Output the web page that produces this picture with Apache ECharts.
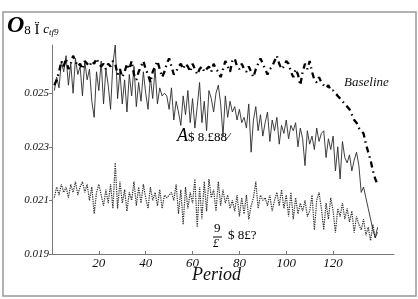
<!DOCTYPE html>
<html>
<head>
    <meta charset="UTF-8">
    <title>Period chart</title>
    <script src="https://cdn.jsdelivr.net/npm/echarts@6.0.0/dist/echarts.min.js"></script>
    <style>
        body { margin: 0; background: #fff; }
        #chart { width: 418px; height: 299px; }
    </style>
</head>
<body>
    <div id="chart"></div>
    <script type="text/javascript">
        // values, period 1..139
        var actual = [
            0.0251, 0.0256, 0.0252, 0.0262, 0.0258, 0.0264, 0.0253, 0.0261, 0.0250, 0.0263,
            0.0257, 0.0260, 0.0249, 0.0262, 0.0255, 0.0259, 0.0247, 0.0241, 0.0258, 0.0251,
            0.0262, 0.0246, 0.0259, 0.0253, 0.0244, 0.0261, 0.0268, 0.0248, 0.0258, 0.0246,
            0.0255, 0.0243, 0.0257, 0.0249, 0.0260, 0.0245, 0.0254, 0.0247, 0.0258, 0.0250,
            0.0244, 0.0256, 0.0248, 0.0259, 0.0246, 0.0252, 0.0249, 0.0250, 0.0249, 0.0244,
            0.0252, 0.0240, 0.0247, 0.0243, 0.0238, 0.0249, 0.0242, 0.0251, 0.0239, 0.0248,
            0.0237, 0.0245, 0.0254, 0.0239, 0.0247, 0.0236, 0.0251, 0.0248, 0.0243, 0.0250,
            0.0253, 0.0246, 0.0234, 0.0249, 0.0241, 0.0247, 0.0243, 0.0245, 0.0240, 0.0244,
            0.0239, 0.0241, 0.0237, 0.0246, 0.0228, 0.0240, 0.0245, 0.0236, 0.0242, 0.0234,
            0.0239, 0.0243, 0.0232, 0.0240, 0.0236, 0.0241, 0.0231, 0.0238, 0.0235, 0.0240,
            0.0233, 0.0238, 0.0236, 0.0239, 0.0230, 0.0237, 0.0233, 0.0223, 0.0236, 0.0231,
            0.0234, 0.0229, 0.0237, 0.0232, 0.0235, 0.0236, 0.0226, 0.0233, 0.0229, 0.0234,
            0.0221, 0.0230, 0.0218, 0.0232, 0.0226, 0.0224, 0.0227, 0.0221, 0.0225, 0.0228,
            0.0223, 0.0213, 0.0215, 0.0211, 0.0207, 0.0203, 0.0199, 0.0196, 0.0200
        ];
        var baseline = [
            0.0253, 0.0255, 0.0258, 0.0262, 0.0260, 0.0263, 0.0259, 0.0261, 0.0264, 0.0262,
            0.0260, 0.0261, 0.0259, 0.0262, 0.0261, 0.0260, 0.0262, 0.0261, 0.0263, 0.0261,
            0.0260, 0.0261, 0.0259, 0.0261, 0.0260, 0.0262, 0.0261, 0.0257, 0.0259, 0.0256,
            0.0258, 0.0261, 0.0259, 0.0262, 0.0257, 0.0255, 0.0258, 0.0260, 0.0262, 0.0259,
            0.0257, 0.0254, 0.0258, 0.0260, 0.0262, 0.0259, 0.0256, 0.0258, 0.0261, 0.0263,
            0.0260, 0.0257, 0.0258, 0.0260, 0.0261, 0.0259, 0.0261, 0.0260, 0.0258, 0.0261,
            0.0259, 0.0257, 0.0259, 0.0260, 0.0258, 0.0259, 0.0260, 0.0258, 0.0261, 0.0259,
            0.0258, 0.0256, 0.0259, 0.0262, 0.0260, 0.0258, 0.0262, 0.0263, 0.0260, 0.0259,
            0.0261, 0.0259, 0.0258, 0.0260, 0.0258, 0.0256, 0.0259, 0.0261, 0.0263, 0.0261,
            0.0259, 0.0257, 0.0259, 0.0260, 0.0262, 0.0264, 0.0261, 0.0259, 0.0260, 0.0262,
            0.0261, 0.0258, 0.0256, 0.0259, 0.0257, 0.0253, 0.0258, 0.0261, 0.0259, 0.0262,
            0.0258, 0.0255, 0.0254, 0.0256, 0.0254, 0.0253, 0.0252, 0.0253, 0.0251, 0.0251,
            0.0250, 0.0249, 0.0248, 0.0247, 0.0246, 0.0245, 0.0244, 0.0242, 0.0240, 0.0239,
            0.0237, 0.0236, 0.0235, 0.0231, 0.0228, 0.0225, 0.0221, 0.0218, 0.0216
        ];
        var lower = [
            0.0211, 0.0215, 0.0212, 0.0216, 0.0213, 0.0215, 0.0211, 0.0216, 0.0213, 0.0217,
            0.0212, 0.0215, 0.0217, 0.0213, 0.0216, 0.0210, 0.0215, 0.0205, 0.0213, 0.0216,
            0.0212, 0.0208, 0.0214, 0.0209, 0.0216, 0.0207, 0.0224, 0.0207, 0.0217, 0.0209,
            0.0214, 0.0206, 0.0213, 0.0210, 0.0217, 0.0208, 0.0215, 0.0209, 0.0216, 0.0211,
            0.0207, 0.0215, 0.0210, 0.0213, 0.0208, 0.0214, 0.0207, 0.0212, 0.0211, 0.0212,
            0.0213, 0.0210, 0.0216, 0.0205, 0.0214, 0.0201, 0.0215, 0.0207, 0.0213, 0.0209,
            0.0218, 0.0200, 0.0215, 0.0203, 0.0217, 0.0206, 0.0218, 0.0211, 0.0214, 0.0206,
            0.0217, 0.0208, 0.0214, 0.0209, 0.0212, 0.0207, 0.0210, 0.0206, 0.0212, 0.0204,
            0.0211, 0.0205, 0.0212, 0.0203, 0.0208, 0.0211, 0.0217, 0.0207, 0.0212, 0.0210,
            0.0211, 0.0208, 0.0212, 0.0206, 0.0210, 0.0213, 0.0208, 0.0214, 0.0207, 0.0212,
            0.0204, 0.0213, 0.0203, 0.0211, 0.0205, 0.0209, 0.0206, 0.0210, 0.0204, 0.0206,
            0.0212, 0.0199, 0.0210, 0.0213, 0.0207, 0.0199, 0.0209, 0.0203, 0.0211, 0.0206,
            0.0198, 0.0207, 0.0204, 0.0209, 0.0203, 0.0207, 0.0202, 0.0206, 0.0198, 0.0204,
            0.0201, 0.0199, 0.0203, 0.0197, 0.0200, 0.0195, 0.0201, 0.0196, 0.0198
        ];
        var xTicks = [20, 40, 60, 80, 100, 120];
        var yTicks = [0.019, 0.021, 0.023, 0.025];

        function pairs(vals) {
            var out = [];
            for (var i = 0; i < vals.length; i++) {
                out.push([i + 1, vals[i]]);
            }
            return out;
        }

        var serif = '"Liberation Serif", "DejaVu Serif", serif';
        var chart = echarts.init(document.getElementById('chart'));

        var option = {
            animation: false,
            backgroundColor: '#fff',
            grid: { left: 52, right: 24, top: 45, bottom: 45 },
            xAxis: {
                type: 'value',
                min: 0,
                max: 146,
                axisLine: { lineStyle: { color: '#777', width: 1 } },
                axisTick: { inside: true, length: 3, customValues: xTicks, lineStyle: { color: '#777' } },
                splitLine: { show: false },
                axisLabel: {
                    customValues: xTicks,
                    color: '#111',
                    fontFamily: serif,
                    fontStyle: 'italic',
                    fontSize: 13,
                    margin: 3
                }
            },
            yAxis: {
                type: 'value',
                min: 0.019,
                max: 0.0268,
                axisLine: { show: true, lineStyle: { color: '#777', width: 1 } },
                axisTick: { show: true, length: 3, customValues: yTicks, lineStyle: { color: '#777' } },
                splitLine: { show: false },
                axisLabel: {
                    customValues: yTicks,
                    color: '#111',
                    fontFamily: serif,
                    fontStyle: 'italic',
                    fontSize: 11,
                    margin: 3,
                    formatter: function (v) { return v.toFixed(3); }
                }
            },
            series: [
                {
                    name: 'Actual',
                    type: 'line',
                    data: pairs(actual),
                    showSymbol: false,
                    lineStyle: { color: '#2a2a2a', width: 0.9 },
                    z: 2
                },
                {
                    name: 'Baseline',
                    type: 'line',
                    data: pairs(baseline),
                    showSymbol: false,
                    lineStyle: { color: '#000', width: 2.3, type: [6, 4, 1.5, 4] },
                    z: 3
                },
                {
                    name: 'Lower',
                    type: 'line',
                    data: pairs(lower),
                    showSymbol: false,
                    lineStyle: { color: '#333', width: 1.2, type: [1.3, 1] },
                    z: 1
                }
            ],
            graphic: [
                {
                    type: 'rect',
                    shape: { x: 3, y: 12, width: 413, height: 284 },
                    style: { fill: null, stroke: '#999', lineWidth: 1.5 },
                    silent: true
                },
                {
                    type: 'text',
                    left: 7,
                    top: 14,
                    style: {
                        text: '{a|O}{b|8}{c| Ï }{d|c}{e|tf9}',
                        rich: {
                            a: { fontFamily: serif, fontStyle: 'italic', fontWeight: 'bold', fontSize: 24, fill: '#000' },
                            b: { fontFamily: serif, fontSize: 13, fill: '#000', padding: [10, 0, 0, 0] },
                            c: { fontFamily: serif, fontSize: 15, fill: '#000', padding: [8, 0, 0, 0] },
                            d: { fontFamily: serif, fontStyle: 'italic', fontSize: 13, fill: '#000', padding: [8, 0, 0, 0] },
                            e: { fontFamily: serif, fontStyle: 'italic', fontSize: 9, fill: '#000', padding: [14, 0, 0, 0] }
                        }
                    }
                },
                {
                    type: 'text',
                    left: 344,
                    top: 76,
                    style: { text: 'Baseline', font: 'italic 13px ' + serif, fill: '#111' }
                },
                {
                    type: 'text',
                    left: 177,
                    top: 127,
                    style: {
                        text: '{a|A}{b|$ 8.£88⁄}',
                        rich: {
                            a: { fontFamily: serif, fontStyle: 'italic', fontSize: 18, fill: '#000' },
                            b: { fontFamily: serif, fontSize: 13, fill: '#000', padding: [4, 0, 0, 0] }
                        }
                    }
                },
                {
                    type: 'text',
                    left: 214,
                    top: 222,
                    style: { text: '9', font: '13px ' + serif, fill: '#000' }
                },
                {
                    type: 'line',
                    shape: { x1: 213, y1: 237, x2: 222, y2: 237 },
                    style: { stroke: '#000', lineWidth: 1 }
                },
                {
                    type: 'text',
                    left: 213,
                    top: 238,
                    style: { text: '£', font: 'italic 12px ' + serif, fill: '#000' }
                },
                {
                    type: 'text',
                    left: 228,
                    top: 229,
                    style: { text: '$ 8£?', font: '13px ' + serif, fill: '#000' }
                },
                {
                    type: 'text',
                    left: 192,
                    top: 266,
                    style: { text: 'Period', font: 'italic 18px ' + serif, fill: '#111' }
                }
            ]
        };

        chart.setOption(option);
    </script>
</body>
</html>
